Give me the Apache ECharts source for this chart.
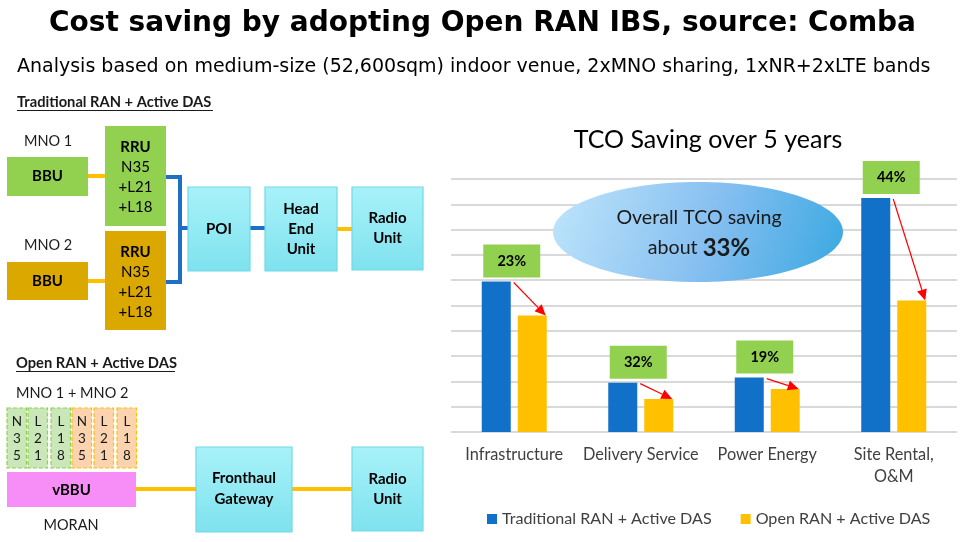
<!DOCTYPE html>
<html>
<head>
<meta charset="utf-8">
<script src="https://cdn.jsdelivr.net/npm/echarts@6/dist/echarts.min.js"></script>
<style>html,body{margin:0;padding:0;background:#fff;}#c{width:965px;height:542px;}</style>
</head>
<body>
<div id="c"></div>
<script>
// ---- data ----
const categories = ['Infrastructure', 'Delivery Service', 'Power Energy', 'Site Rental,\nO&M'];
const traditional = [5.95, 1.95, 2.15, 9.25];
const openRan = [4.6, 1.3, 1.7, 5.2];
const savings = ['23%', '32%', '19%', '44%'];
const seriesNames = ['Traditional RAN + Active DAS', 'Open RAN + Active DAS'];

const FONT = 'Lato, "Open Sans", sans-serif';
const TFONT = '"DejaVu Sans", sans-serif';
const BAR_W = 29, BAR_GAP = 7;

const chart = echarts.init(document.getElementById('c'));

// ---- diagram helpers ----
const G = [];
function txt(x, y, text, size, weight, align, color, lh) {
  G.push({ type: 'text', x: x, y: y, z: 20, style: { text: text, font: (weight || 'normal') + ' ' + size + 'px ' + FONT, fill: color || '#000', textAlign: align || 'left', textVerticalAlign: 'middle', lineHeight: lh || size * 1.3 } });
}
function rect(x, y, w, h, fill, stroke, dash) {
  G.push({ type: 'rect', z: 10, shape: { x: x, y: y, width: w, height: h }, style: { fill: fill, stroke: stroke || null, lineWidth: stroke ? 1.2 : 0, lineDash: dash || null } });
}
function cyan(x, y, w, h) {
  rect(x, y, w, h, new echarts.graphic.LinearGradient(0, 0, 0, 1, [{ offset: 0, color: '#a8f2f9' }, { offset: 1, color: '#7ee2ee' }]), '#6fd9e6');
}
function line(pts, color, width) {
  G.push({ type: 'polyline', z: 8, shape: { points: pts }, style: { stroke: color, lineWidth: width || 4, fill: null } });
}
function heading(x, y, text, w) {
  txt(x, y, text, 14.7, 'bold', 'left', '#1a1a1a');
  G.push({ type: 'line', z: 20, shape: { x1: x, y1: y + 8.5, x2: x + w, y2: y + 8.5 }, style: { stroke: '#1a1a1a', lineWidth: 1 } });
}
const BLUE_L = '#1f6fc5', YEL_L = '#ffc000';

// Traditional RAN diagram
heading(17, 102, 'Traditional RAN + Active DAS', 196);
txt(24, 141, 'MNO 1', 14.5, 'normal', 'left', '#1a1a1a');
txt(24, 245, 'MNO 2', 14.5, 'normal', 'left', '#1a1a1a');
line([[88, 176], [105, 176]], YEL_L);
line([[88, 281], [105, 281]], YEL_L);
rect(7, 157, 81, 39, '#92d050');
txt(47.5, 176.5, 'BBU', 15, 'bold', 'center');
rect(7, 262, 81, 38, '#dba800');
txt(47.5, 281, 'BBU', 15, 'bold', 'center');
rect(105, 126, 61, 100, '#92d050');
rect(105, 231, 61, 99, '#dba800');
[126, 231].forEach(function (y0) {
  txt(135.5, y0 + 21, 'RRU', 15, 'bold', 'center');
  txt(135.5, y0 + 61, 'N35\n+L21\n+L18', 15, 'normal', 'center', '#000', 20);
});
line([[166, 177], [180, 177], [180, 282], [166, 282]], BLUE_L);
line([[180, 228], [188, 228]], BLUE_L);
cyan(188, 187, 62, 84);
txt(219, 229, 'POI', 15, 'bold', 'center');
line([[250, 228], [265, 228]], BLUE_L);
cyan(265, 187, 72, 84);
txt(301, 229, 'Head\nEnd\nUnit', 15, 'bold', 'center', '#000', 20);
line([[337, 229], [352, 229]], YEL_L);
cyan(352, 187, 71, 83);
txt(387.5, 228.5, 'Radio\nUnit', 15, 'bold', 'center', '#000', 20);

// Open RAN diagram
heading(16, 363, 'Open RAN + Active DAS', 159);
txt(16, 393, 'MNO 1 + MNO 2', 14.5, 'normal', 'left', '#1a1a1a');
const bandBoxes = [[7, 'N\n3\n5', 'g'], [28, 'L\n2\n1', 'g'], [51, 'L\n1\n8', 'g'], [72, 'N\n3\n5', 'o'], [94, 'L\n2\n1', 'o'], [117, 'L\n1\n8', 'o']];
bandBoxes.forEach(function (b) {
  const g = b[2] === 'g';
  rect(b[0], 408, 19.5, 60, g ? '#c9e7b8' : '#fbd3ae', g ? '#92d050' : '#ffc000', [4, 2]);
  txt(b[0] + 10, 439, b[1], 13.5, 'normal', 'center', '#1a1a1a', 17);
});
rect(7, 472, 129, 35, '#f78ef7');
txt(71.5, 490, 'vBBU', 15, 'bold', 'center');
txt(71, 525, 'MORAN', 14.5, 'normal', 'center', '#1a1a1a');
line([[136, 489], [196, 489]], YEL_L);
cyan(196, 447, 96, 85);
txt(244, 489, 'Fronthaul\nGateway', 15, 'bold', 'center', '#000', 21);
line([[292, 489], [352, 489]], YEL_L);
cyan(352, 447, 71, 84);
txt(387.5, 489, 'Radio\nUnit', 15, 'bold', 'center', '#000', 20);

// Ellipse callout
G.push({ type: 'ellipse', z: 30, shape: { cx: 698, cy: 232, rx: 145, ry: 50 },
  style: { fill: new echarts.graphic.LinearGradient(0, 0, 1, 1, [{ offset: 0, color: '#bfe5fb' }, { offset: 0.55, color: '#84bef0' }, { offset: 1, color: '#38a8e1' }]) } });
G.push({ type: 'text', z: 31, x: 699, y: 233, style: { rich: {
    a: { font: 'normal 19.6px ' + FONT, fill: '#1a1a1a', lineHeight: 30 },
    b: { font: 'bold 24px ' + FONT, fill: '#1a1a1a', lineHeight: 30 } },
  text: '{a|Overall TCO saving}\n{a|about }{b|33%}', textAlign: 'center', textVerticalAlign: 'middle' } });

// ---- annotation renderer (saving % boxes and arrows) ----
function renderSaving(params, api) {
  const i = api.value(0);
  const cx = api.coord([i, 0])[0];
  const bTop = api.coord([i, api.value(1)])[1];
  const yTop = api.coord([i, api.value(2)])[1];
  const bLeft = cx - BAR_GAP / 2 - BAR_W;
  const bRight = cx - BAR_GAP / 2;
  const yRight = cx + BAR_GAP / 2 + BAR_W;
  const x1 = bRight + 3, y1 = bTop + 1, x2 = yRight - 1, y2 = yTop;
  const dx = x2 - x1, dy = y2 - y1, L = Math.sqrt(dx * dx + dy * dy);
  const ux = dx / L, uy = dy / L, hl = 11, hw = 5;
  const bx = x2 - ux * hl, by = y2 - uy * hl;
  return { type: 'group', children: [
    { type: 'rect', shape: { x: bLeft + 1.5, y: bTop - 37, width: 57, height: 33 }, style: { fill: '#92d050' } },
    { type: 'text', style: { x: bLeft + 30, y: bTop - 20.5, text: savings[i], font: 'bold 14.5px ' + FONT, fill: '#000', textAlign: 'center', textVerticalAlign: 'middle' } },
    { type: 'line', shape: { x1: x1, y1: y1, x2: bx, y2: by }, style: { stroke: '#ff0000', lineWidth: 1.2 } },
    { type: 'polygon', shape: { points: [[x2, y2], [bx - uy * hw, by + ux * hw], [bx + uy * hw, by - ux * hw]] }, style: { fill: '#ff0000' } }
  ] };
}

chart.setOption({
  animation: false,
  title: [
    { text: 'Cost saving by adopting Open RAN IBS, source: Comba', left: 'center', top: 5, textStyle: { fontFamily: TFONT, fontWeight: 'bold', fontSize: 28, color: '#000' } },
    { text: 'Analysis based on medium-size (52,600sqm) indoor venue, 2xMNO sharing, 1xNR+2xLTE bands', left: 12, top: 53, textStyle: { fontFamily: TFONT, fontWeight: 'normal', fontSize: 19, color: '#000' } },
    { text: 'TCO Saving over 5 years', left: 703, textAlign: 'center', top: 122, textStyle: { fontFamily: FONT, fontWeight: 'normal', fontSize: 25, color: '#000' } }
  ],
  legend: { left: 482, top: 506, itemWidth: 10, itemHeight: 10, itemGap: 29, icon: 'rect', textStyle: { fontFamily: FONT, fontSize: 16.1, color: '#404040' }, data: seriesNames },
  grid: { left: 451, right: 8, top: 179, bottom: 110 },
  xAxis: { type: 'category', data: categories, axisLine: { show: false }, axisTick: { show: false },
    axisLabel: { margin: 12, fontFamily: FONT, fontSize: 16.3, color: '#404040', lineHeight: 22, interval: 0 } },
  yAxis: { type: 'value', min: 0, max: 10, interval: 1, axisLabel: { show: false }, axisLine: { show: false }, axisTick: { show: false },
    splitLine: { lineStyle: { color: '#d9d9d9', width: 2 } } },
  series: [
    { name: seriesNames[0], type: 'bar', data: traditional, barWidth: BAR_W, barGap: (BAR_GAP / BAR_W * 100) + '%', itemStyle: { color: '#1170c8' }, z: 3 },
    { name: seriesNames[1], type: 'bar', data: openRan, barWidth: BAR_W, itemStyle: { color: '#ffc000' }, z: 3 },
    { type: 'custom', renderItem: renderSaving, clip: false, z: 5, silent: true,
      data: categories.map(function (c, i) { return [i, traditional[i], openRan[i]]; }) }
  ],
  graphic: G
});
</script>
</body>
</html>
